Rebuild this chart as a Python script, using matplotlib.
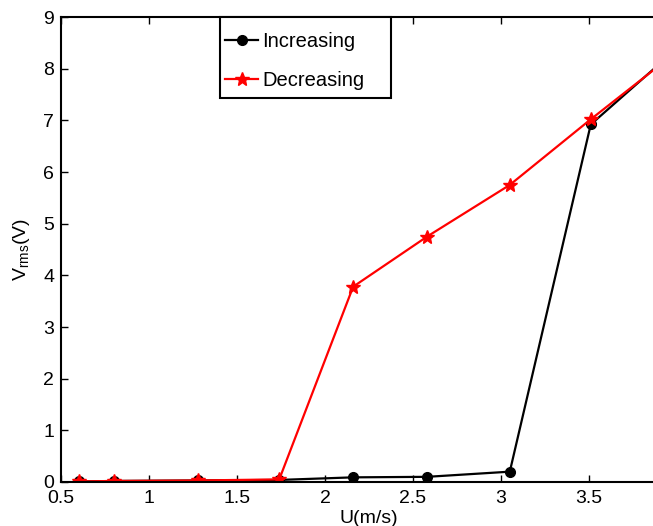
import numpy as np
import matplotlib
matplotlib.use('Agg')
import matplotlib.pyplot as plt
from matplotlib.patches import Rectangle

plt.rcParams['font.family'] = ['Liberation Sans', 'DejaVu Sans']
plt.rcParams['mathtext.fontset'] = 'custom'
plt.rcParams['mathtext.rm'] = 'Liberation Sans'
plt.rcParams['mathtext.it'] = 'Liberation Sans'

# wind speed (m/s)
u = [0.6, 0.8, 1.28, 1.74, 2.16, 2.58, 3.05, 3.51, 3.97]
v_inc = [0.01, 0.02, 0.03, 0.04, 0.09, 0.10, 0.20, 6.92, 8.30]
v_dec = [0.01, 0.02, 0.03, 0.05, 3.78, 4.75, 5.75, 7.02, 8.25]

W, H = 653, 526
fig = plt.figure(figsize=(W/100, H/100), dpi=100)
# axes runs past the right edge, like the cropped original
ax = fig.add_axes([61/W, 44/H, 616/W, 465/H])

ax.plot(u, v_inc, 'k-o', linewidth=1.6, markersize=7, label='Increasing')
ax.plot(u, v_dec, 'r-*', linewidth=1.6, markersize=10, label='Decreasing')

ax.set_xlim(0.5, 4.0)
ax.set_ylim(0, 9)
ax.set_xticks(np.arange(0.5, 3.51, 0.5))
ax.set_xticklabels(['0.5', '1', '1.5', '2', '2.5', '3', '3.5'])
ax.set_yticks(range(0, 10))

ax.tick_params(direction='in', top=True, right=True, length=5, width=1,
               labelsize=14)
ax.tick_params(axis='x', pad=6)
ax.tick_params(axis='y', pad=5)
for s in ax.spines.values():
    s.set_linewidth(1.5)

ax.set_xlabel('U(m/s)', fontsize=14, labelpad=2)
ax.set_ylabel(r'V$_{\rm rms}$(V)', fontsize=14, labelpad=8)

# MATLAB-style legend: wide box, entries hugging the left side
box = Rectangle((220/W, 1 - 98/H), 171/W, 81/H, transform=fig.transFigure,
                facecolor='white', edgecolor='k', linewidth=1.5, zorder=5)
ax.add_artist(box)
box.set_clip_on(False)
leg = ax.legend(loc='upper left', bbox_to_anchor=(225/W, 1 - 32/H),
                bbox_transform=fig.transFigure, fontsize=14.5, frameon=False,
                borderpad=0, handlelength=1.65, handletextpad=0.2,
                labelspacing=1.0, borderaxespad=0)
leg.set_zorder(6)

fig.savefig('out.png', dpi=100)
